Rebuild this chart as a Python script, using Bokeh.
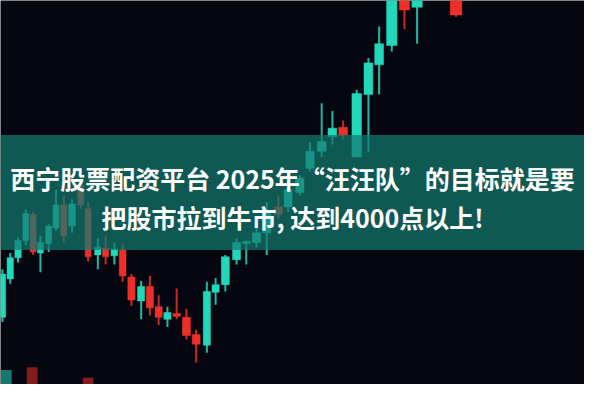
from bokeh.plotting import figure
from bokeh.embed import file_html
from bokeh.resources import INLINE
from bokeh.core.properties import value
from bokeh.models import ColumnDataSource, Range1d
import numpy as np

# ---- data (price units, time units) ----
t = [2, 10, 18, 26, 33.5, 41, 49.5, 57, 65, 73.5, 82.5, 90, 100, 108, 117,
     125.5, 134.5, 144.5, 153.5, 162.5, 171.5, 181, 191, 201, 212, 221, 231,
     242.5, 252.5, 263, 273.5, 285.5, 295.5, 307.5, 318, 330, 341, 352, 366,
     378, 389, 402, 415, 428, 468]
open_ = [70, 110, 132, 150, 177, 137, 147, 163, 187, 165, 207, 183, 135, 142, 134,
         140, 112, 87, 102, 81, 68, 74, 70, 52, 41, 96, 104,
         130, 147, 148, 158, 185, 185, 200, 225, 243, 258, 268, 237,
         302, 333, 353, 405, 393, 405]
close = [115, 132, 150, 178, 138, 148, 165, 187, 155, 188, 187, 133, 143, 133, 141,
         113, 88, 102, 80, 70, 75, 71, 51, 42, 97, 104, 133,
         148, 149, 158, 178, 177, 203, 215, 243, 253, 267, 260, 303,
         335, 355, 410, 390, 405, 385]
high = [120, 137, 153, 182, 180, 155, 167, 203, 197, 193, 210, 190, 152, 155, 148,
        147, 115, 108, 113, 93, 81, 100, 79, 57, 107, 111, 135,
        152, 150, 168, 190, 197, 212, 218, 252, 293, 285, 275, 307,
        340, 373, 415, 410, 410, 410]
low = [65, 105, 127, 145, 135, 117, 138, 160, 148, 158, 183, 128, 120, 125, 125,
       107, 82, 68, 72, 62, 60, 68, 47, 23, 33, 83, 97,
       125, 125, 143, 135, 173, 180, 197, 222, 237, 250, 255, 240,
       242, 302, 347, 370, 355, 383]

# blurred foreground candles at the bottom edge
bg_t = [6, 32.5, 90]
bg_open = [15, 18, 7]
bg_close = [-5, -5, -5]

title_lines = ["西宁股票配资平台 2025年“汪汪队”的目标就是要",
               "把股市拉到牛市, 达到4000点以上!"]

BG = "#05060f"
GREEN = "#22d8bb"
RED = "#ec3029"

W, H = 584, 384
p = figure(width=W, height=H, output_backend="svg", toolbar_location=None,
           x_range=Range1d(0, 600), y_range=Range1d(0, 400),
           min_border=0, background_fill_color=BG, border_fill_color=BG)
p.axis.visible = False
p.grid.visible = False
p.outline_line_color = None

tt = np.array(t, dtype=float)
gaps = np.diff(tt)
left_gap = np.concatenate([[gaps[0]], gaps])
right_gap = np.concatenate([gaps, [gaps[-1]]])
widths = 0.82 * np.minimum(left_gap, right_gap)
widths = np.minimum(widths, 12)

o = np.array(open_, float)
c = np.array(close, float)
up = c >= o
colors = [GREEN if u else RED for u in up]

src = ColumnDataSource(dict(t=tt, top=np.maximum(o, c), bottom=np.minimum(o, c),
                            high=high, low=low, w=widths, color=colors))
p.segment(x0="t", y0="low", x1="t", y1="high", source=src,
          line_color="color", line_width=2, line_alpha=0.85)
p.vbar(x="t", top="top", bottom="bottom", width="w", source=src,
       fill_color="color", line_color="color", line_width=0.5)

bsrc = ColumnDataSource(dict(t=bg_t, top=np.maximum(bg_open, bg_close),
                             bottom=np.minimum(bg_open, bg_close),
                             color=[GREEN, RED, RED]))
p.vbar(x="t", top="top", bottom="bottom", width=11, source=bsrc,
       fill_color="color", line_color=None, fill_alpha=0.55)

# banner
p.quad(left=0, right=600, bottom=140, top=260, fill_color="#137a70",
       fill_alpha=0.72, line_color=None)

p.text(x=[300, 300], y=[215, 174], text=title_lines,
       text_font=value("Noto Sans CJK SC"), text_font_style="bold",
       text_font_size="25px", text_color="white",
       text_align="center", text_baseline="middle")

open("out.html", "w").write(file_html(p, INLINE))
